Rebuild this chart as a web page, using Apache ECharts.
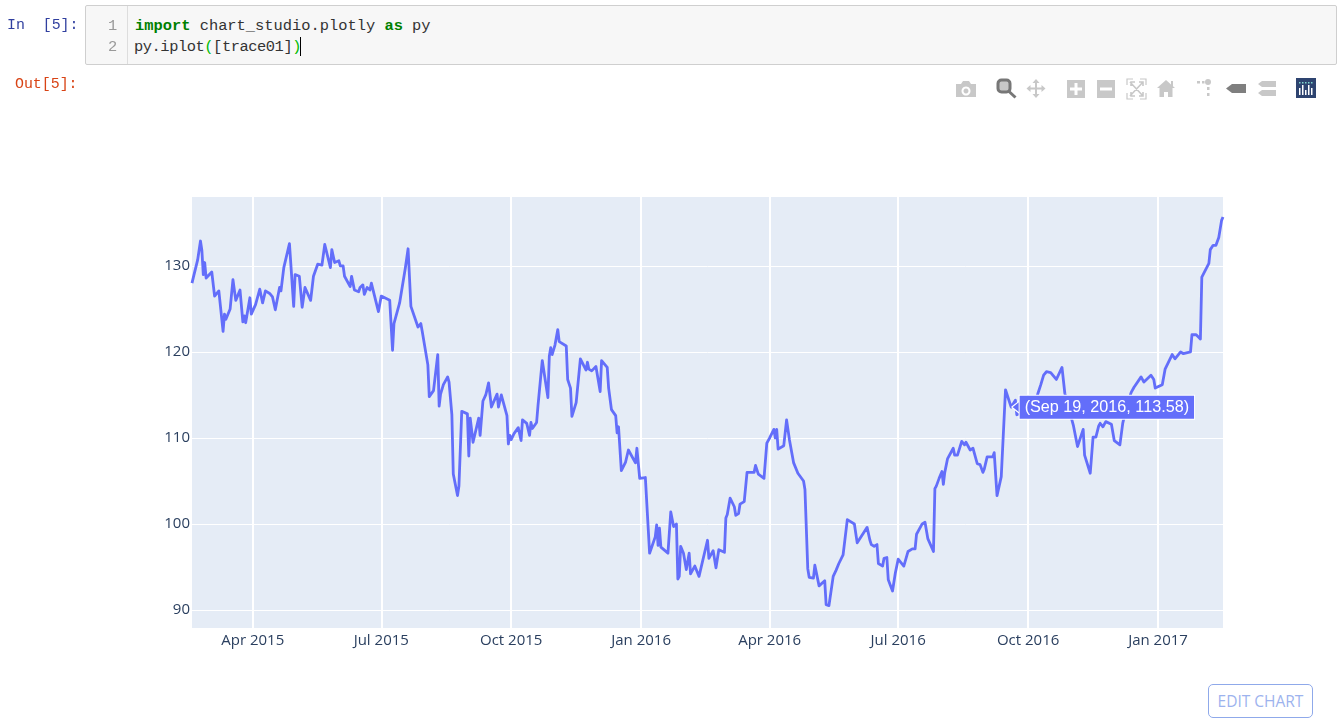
<!DOCTYPE html>
<html>
<head>
<meta charset="utf-8">
<script src="https://cdn.jsdelivr.net/npm/echarts@6/dist/echarts.min.js"></script>
<style>
html,body{margin:0;padding:0;width:1341px;height:722px;overflow:hidden;background:#fff}
#main{position:absolute;left:0;top:0;width:1341px;height:722px}
.abs{position:absolute;white-space:pre}
.mono{font-family:"Liberation Mono",monospace;font-size:15.4px;line-height:21px;color:#333}
#cell{position:absolute;left:85px;top:5px;width:1250px;height:58px;border:1px solid #cfcfcf;border-radius:2px;background:#f7f7f7}
#gutter{position:absolute;left:127px;top:6px;width:1px;height:58px;background:#ddd}
#tools svg{position:absolute;left:0;top:0}
#edit{position:absolute;left:1208px;top:684px;width:103px;height:32px;border:1.5px solid #8fa9ea;border-radius:5px;color:#9db3ee;font:15.5px "Open Sans",sans-serif;text-align:center;line-height:33px;background:#fff}
</style>
</head>
<body>
<div id="main"></div>
<div id="cell"></div><div id="gutter"></div>
<div class="abs mono" style="left:7px;top:15px;color:#303F9F;font-size:14.9px">In  [5]:</div>
<div class="abs mono" style="left:15px;top:74px;color:#D84315;font-size:14.9px">Out[5]:</div>
<div class="abs mono" style="left:108px;top:16px;color:#999">1</div>
<div class="abs mono" style="left:108px;top:37px;color:#999">2</div>
<div class="abs mono" style="left:135px;top:16px"><b style="color:#008000">import</b> chart_studio.plotly <b style="color:#008000">as</b> py</div>
<div class="abs mono" style="left:134px;top:37px;letter-spacing:-0.45px">py.iplot<span style="color:#0b0">(</span>[trace01]<span style="color:#0b0">)</span></div>
<div class="abs" style="left:300px;top:37px;width:1px;height:19px;background:#000"></div>
<div id="tools">
<svg width="1341" height="110" viewBox="0 0 1341 110">
<g fill="#c8c8c8">
<path d="M956 84h5l2-3h6l2 3h5v13h-20zM966 86.5a4.5 4.5 0 1 0 .01 0zM966 88.5a2.5 2.5 0 1 1-.01 0z" fill-rule="evenodd"/>
<path d="M1036 79l3.5 4h-2.5v4.500h4.500v-2.500l4 3.500-4 3.500v-2.500h-4.500v4.500h2.500l-3.500 4-3.500-4h2.500v-4.500h-4.500v2.500l-4-3.500 4-3.500v2.500h4.500v-4.500h-2.500z"/>
<path d="M1067 80h18v18h-18zM1074.500 83v4.500h-4.500v3h4.500v4.500h3v-4.500h4.500v-3h-4.500v-4.500z" fill-rule="evenodd"/>
<path d="M1097 80h18v18h-18zM1100 87.500v3h12v-3z" fill-rule="evenodd"/>
<path d="M1166 80l5 4.500v-3.500h2v5.300l2 1.700h-2.500v9h-4.500v-5h-4v5h-4.500v-9h-2.500z"/>
<circle cx="1208" cy="82" r="3"/><rect x="1197" y="81" width="3" height="2.500"/><rect x="1202" y="81" width="2.500" height="2.500"/><rect x="1207" y="87" width="2.500" height="3"/><rect x="1207" y="93" width="2.500" height="3"/>
<path d="M1262 81h14v6h-14l-4-3zM1262 90h14v6h-14l-4-3z"/>
</g>
<g fill="none" stroke="#c8c8c8" stroke-width="1.200">
<path d="M1127 85v-6h6M1140 79h6v6M1146 93v6h-6M1133 99h-6v-6"/>
<path d="M1130 82l13 14M1143 82l-13 14M1131 86v-4h4M1139 82h4v4M1143 92v4h-4M1135 96h-4v-4" stroke-width="1.600"/>
</g>
<path d="M1232 84h14v9h-14l-6-4.500z" fill="#7f7f7f"/>
<g stroke="#777">
<rect x="998" y="80" width="12" height="12" rx="3.500" stroke-width="3" fill="#c8c8c8"/>
<path d="M1008.500 91l7 6.500" stroke-width="3" fill="none"/>
</g>
<rect x="1296" y="78" width="20" height="20" fill="#2e4470"/>
<g fill="#fff">
<rect x="1299" y="88" width="1.500" height="7"/><rect x="1302" y="85" width="1.500" height="10"/><rect x="1305" y="90" width="1.500" height="5"/><rect x="1308" y="85" width="1.500" height="10"/><rect x="1311" y="88" width="1.500" height="7"/>
</g>
<g fill="#7fd6cc">
<rect x="1299" y="82" width="1.500" height="1.500"/><rect x="1302" y="82" width="1.500" height="1.500"/><rect x="1305" y="82" width="1.500" height="1.500"/><rect x="1308" y="82" width="1.500" height="1.500"/><rect x="1311" y="82" width="1.500" height="1.500"/>
</g>
</svg>
</div>
<div id="edit">EDIT CHART</div>
<script>
// Days since 17 Feb 2015
const dayOffsets = [
0,1,2,4,6,7,8,9,10,14,16,19,
22,23,24,27,29,31,34,36,37,38,41,42,
45,48,50,52,55,57,59,62,63,65,69,72,
73,76,78,79,80,84,86,89,92,94,98,99,
101,104,105,107,108,112,113,115,118,119,121,122,
124,126,127,132,134,140,142,143,147,148,151,153,
155,156,160,162,163,167,168,171,174,175,176,178,
181,182,184,185,188,189,191,192,195,196,197,199,
203,204,206,208,210,212,216,217,219,220,223,224,
225,226,228,231,232,233,234,237,239,240,241,244,
245,246,248,252,253,254,255,257,259,260,265,266,
268,269,272,273,275,276,279,280,281,283,286,289,
290,294,295,296,297,300,301,302,304,307,309,314,
315,317,321,324,328,329,330,331,332,337,339,341,
343,344,345,346,348,350,352,353,356,359,365,366,
369,371,373,377,378,379,381,384,385,387,388,391,
393,398,399,401,405,407,408,409,412,413,414,415,
419,421,422,423,426,427,429,433,434,436,437,440,
441,444,448,449,451,454,455,456,457,458,461,464,
469,471,476,477,478,480,481,483,485,486,489,490,
492,493,496,498,500,504,507,510,512,513,514,517,
519,521,525,526,527,529,531,532,533,534,535,539,
540,542,545,547,548,551,553,556,558,560,561,563,
567,568,570,573,576,580,583,584,587,591,595,598,
599,601,603,604,605,608,612,616,617,618,623,624,
627,631,632,633,636,638,640,642,643,645,647,651,
653,654,657,659,662,665,667,672,674,679,681,682,
687,689,694,696,700,702,703,707,708,711,714,715,
716,720,721,723,725,727,729,730];
const closeValues = [
128.0,128.7,128.6,130.7,132.9,131.8,129,130.4,128.6,129.3,126.5,127.1,
122.4,124.4,123.8,125,128.4,126,127.2,123.5,124.2,123.4,126.3,124.4,
125.5,127.3,125.7,127.1,126.8,126.4,124.9,127.5,127.1,129.8,132.6,125.3,
129,128.8,125.2,125.3,127.5,126,128.8,130.2,130.1,132.5,129.8,131.9,
130.4,130.6,130,130,128.8,127.6,128.8,127.2,127,127.5,127.8,126.7,
127.5,127.2,128,124.7,126.5,126,120.2,123.3,125.7,125.7,129.7,132,
125.3,125.2,122.9,123.3,122.4,118.5,114.8,115.5,119.7,113.7,115.1,116.2,
117.1,116.5,112.7,105.8,103.3,104.4,113.1,113.3,112.8,107.9,112.3,109.5,
112.3,110.3,114.3,115,116.4,113.6,115.1,113.6,115,114.9,112.6,109.3,
110.3,109.8,110.5,111.2,111,109.7,112.1,111.7,110.3,111.8,111.1,111.8,
113.8,114,119,114.7,119.5,120.5,119.7,120.8,122.6,121.2,120.7,116.8,
115.8,112.5,114.1,113.9,119.2,119.3,117.9,118.8,118,117.8,118.3,115.4,
119,118.2,115.8,116,113.3,112.6,110.6,111.3,106.2,107.2,108.6,107.1,
108.8,105.3,105.4,96.6,98.5,99.9,97.5,99.5,97.3,96.6,101.4,99.7,
100,93.6,93.9,97.4,96.6,94.7,96.6,94.2,95.1,93.9,98.1,96,
96.9,94.9,97,96.7,100.7,101.1,103,102,101,101.2,102.3,102.6,
106,106,106.8,105.8,105.3,109.4,109.2,110,111,110,111,108.7,
109.1,112.1,112.2,109.8,107.1,107.1,105.9,105,104,94.8,93.8,93.7,
95.2,92.8,93.4,90.6,90.5,93.9,93.7,94.6,94.5,95.4,96.4,100.5,
100,97.8,99.1,99,99.6,98.1,97.6,97.4,97.6,95.4,95.1,96,
96.1,93.5,92.2,94.3,95.9,95.1,96.8,97.1,97.1,98.8,98.8,100,
100.2,98.3,96.8,104.1,104.4,105.3,106.1,104.6,106,105.9,107.6,108.8,
108,108,109.6,109.2,109.5,108.6,108.8,107,106.9,106,106.4,107.8,
107.8,108.3,103.3,105.5,115.6,113.58,114.4,112.7,112.9,113.1,114,114.6,
115.2,116.2,117.3,117.3,117.7,117.6,116.8,118.2,118.2,115.2,112.1,111.5,
109,111,108,108.2,105.9,110.1,110.1,111.4,111.7,111.3,111.9,111.6,
109.7,109.8,109.2,111.7,113.8,115.3,115.9,117.1,116.5,117.3,116.8,115.8,
116.2,118,119.7,119.2,120,119.8,120,120,122,122,121.5,128.7,
128.7,130.3,131.9,132.4,132.4,133.3,135.3,135.7];
const yTickValues = [90,100,110,120,130];
const monthNames = ['Jan','Feb','Mar','Apr','May','Jun','Jul','Aug','Sep','Oct','Nov','Dec'];
const hoverText = '(Sep 19, 2016, 113.58)';
const hoverDate = new Date(2016,8,19).getTime();
const hoverValue = 113.58;

const seriesData = dayOffsets.map((d,i)=>[new Date(2015,1,17+d).getTime(), closeValues[i]]);
const labelColor = '#2a3f5f';
const chart = echarts.init(document.getElementById('main'));
chart.setOption({
  animation:false,
  grid:{left:192,right:118,top:197,bottom:94,show:true,backgroundColor:'#e5ecf6',borderWidth:0},
  xAxis:{
    type:'time',
    min:new Date(2015,1,17).getTime(),
    max:new Date(2017,1,16).getTime(),
    minInterval:90*86400000,
    maxInterval:92*86400000,
    axisLine:{show:false},axisTick:{show:false},
    splitLine:{show:true,lineStyle:{color:'#fff',width:2},showMinLine:false,showMaxLine:false},
    axisLabel:{
      color:labelColor,fontFamily:'Open Sans',fontSize:15,margin:5,
      showMinLabel:false,showMaxLabel:false,hideOverlap:false,
      formatter:v=>{const t=new Date(v);return monthNames[t.getMonth()]+' '+t.getFullYear();}
    }
  },
  yAxis:{
    type:'value',min:87.9,max:138.02,
    axisLine:{show:false},axisTick:{show:false,customValues:yTickValues},
    splitLine:{show:true,lineStyle:{color:'#fff',width:1}},
    axisLabel:{color:labelColor,fontFamily:'Open Sans',fontSize:15,margin:2,customValues:yTickValues}
  },
  series:[{
    type:'line',data:seriesData,showSymbol:false,symbol:'none',
    lineStyle:{color:'#636efa',width:2.8,join:'round'},
    markPoint:{
      silent:true,animation:false,
      data:[
        {coord:[hoverDate,hoverValue],symbol:'triangle',symbolRotate:90,symbolSize:[14,9],symbolOffset:[5,0],
         itemStyle:{color:'#636efa',borderColor:'#fff',borderWidth:1},label:{show:false}},
        {coord:[hoverDate,hoverValue],symbol:'rect',symbolSize:1,itemStyle:{color:'#636efa'},
         label:{show:true,formatter:hoverText,position:'right',distance:8,color:'#fff',
           fontFamily:'Liberation Sans',fontSize:16.2,backgroundColor:'#636efa',borderColor:'#fff',borderWidth:1,
           padding:[4,5,3,5]}}
      ]
    }
  }]
});
</script>
</body>
</html>
